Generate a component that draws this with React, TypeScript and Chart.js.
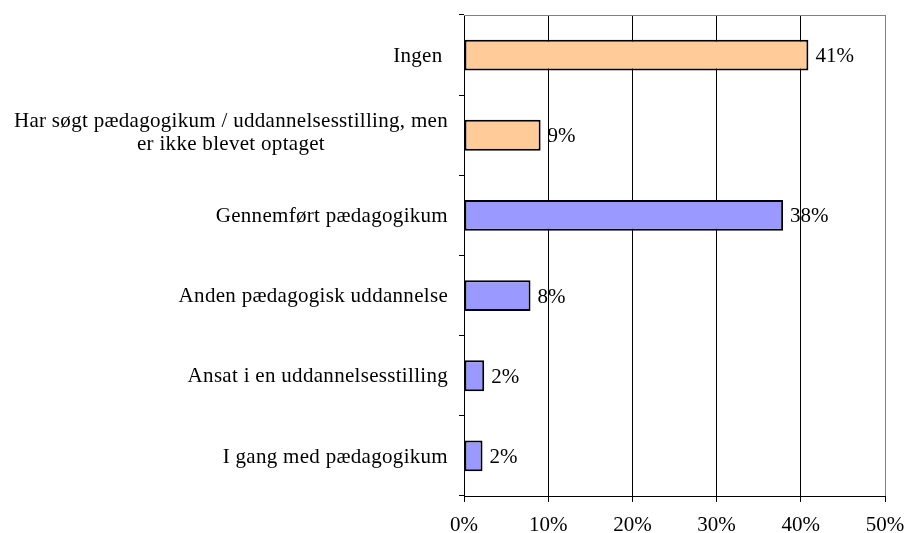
import React, { useEffect, useRef } from "react";
import { Chart, registerables } from "chart.js";

Chart.register(...registerables);

const categories: string[][] = [
  ["Ingen "],
  ["Har søgt pædagogikum / uddannelsesstilling, men", "er ikke blevet optaget"],
  ["Gennemført pædagogikum"],
  ["Anden pædagogisk uddannelse"],
  ["Ansat i en uddannelsesstilling"],
  ["I gang med pædagogikum"],
];
const values: number[] = [40.9, 9.1, 37.9, 7.9, 2.4, 2.2];
const barColors: string[] = ["#FFCC99", "#FFCC99", "#9999FF", "#9999FF", "#9999FF", "#9999FF"];
const xTicks: number[] = [0, 10, 20, 30, 40, 50];

const FONT = "21px 'Liberation Serif'";

const labelPlugin = {
  id: "customLabels",
  afterDraw(chart: any) {
    const ctx = chart.ctx;
    const xs = chart.scales.x;
    const ys = chart.scales.y;
    const area = chart.chartArea;
    ctx.save();
    ctx.strokeStyle = "#808080";
    ctx.lineWidth = 1;
    ctx.beginPath();
    ctx.moveTo(area.left, area.top + 0.5);
    ctx.lineTo(area.right + 0.5, area.top + 0.5);
    ctx.stroke();

    ctx.font = FONT;
    ctx.fillStyle = "#000";
    ctx.textBaseline = "alphabetic";
    ctx.textAlign = "left";
    const rightEdge = area.left - 16;
    categories.forEach((lines, i) => {
      const cy = ys.getPixelForValue(i);
      const n = lines.length;
      (ctx as any).letterSpacing = "0.3px";
      const widths = lines.map((l) => ctx.measureText(l).width);
      const blockW = Math.max(...widths);
      lines.forEach((line, j) => {
        const base = cy + 6.7 + (j - (n - 1) / 2) * 23.5 - (n - 1) * 3.5;
        const lx = rightEdge - blockW + (blockW - widths[j]) / 2;
        ctx.fillText(line, lx, base);
      });
      (ctx as any).letterSpacing = "0px";
      const vx = xs.getPixelForValue(values[i]) + 7;
      ctx.fillText(Math.round(values[i]) + "%", vx, cy + 7);
    });
    ctx.restore();
  },
};

export default function App() {
  const ref = useRef<HTMLCanvasElement | null>(null);
  useEffect(() => {
    document.body.style.margin = "0";
    if (!ref.current) return;
    const chart = new Chart(ref.current, {
      type: "bar",
      data: {
        labels: categories.map((c) => c.join(" ")),
        datasets: [
          {
            data: values,
            backgroundColor: barColors,
            borderColor: "#000",
            borderWidth: 2,
            borderSkipped: false,
            barPercentage: 0.385,
            categoryPercentage: 1,
          },
        ],
      },
      options: {
        indexAxis: "y",
        responsive: false,
        animation: false,
        devicePixelRatio: 1,
        layout: { padding: { left: 459, top: 15, right: 21, bottom: 0 } },
        plugins: { legend: { display: false }, tooltip: { enabled: false } },
        scales: {
          x: {
            min: 0,
            max: 50,
            afterBuildTicks: (axis: any) => {
              axis.ticks = xTicks.map((v) => ({ value: v }));
            },
            afterFit: (axis: any) => {
              axis.height = 37;
              axis.paddingLeft = 0;
              axis.paddingRight = 0;
              axis.paddingTop = 0;
              axis.paddingBottom = 0;
            },
            ticks: {
              color: "#000",
              font: { family: "'Liberation Serif'", size: 21, lineHeight: "15px" },
              padding: 16,
              callback: (v: any) => v + "%",
              maxRotation: 0,
            },
            grid: {
              color: (c: any) => (c.tick && c.tick.value === 50 ? "#808080" : "#000"),
              tickColor: "#000",
              tickLength: 6,
              lineWidth: 1,
            },
            border: { color: "#000", width: 1 },
          },
          y: {
            afterFit: (axis: any) => {
              axis.width = 5;
              axis.paddingTop = 0;
              axis.paddingBottom = 0;
            },
            ticks: { display: false },
            grid: {
              drawOnChartArea: false,
              drawTicks: true,
              tickLength: 5,
              color: "#000",
              offset: true,
            },
            border: { color: "#000", width: 1 },
          },
        },
      },
      plugins: [labelPlugin],
    });
    return () => chart.destroy();
  }, []);
  return (
    <div style={{ width: 906, height: 533 }}>
      <canvas ref={ref} width={906} height={533} style={{ display: "block" }} />
    </div>
  );
}
